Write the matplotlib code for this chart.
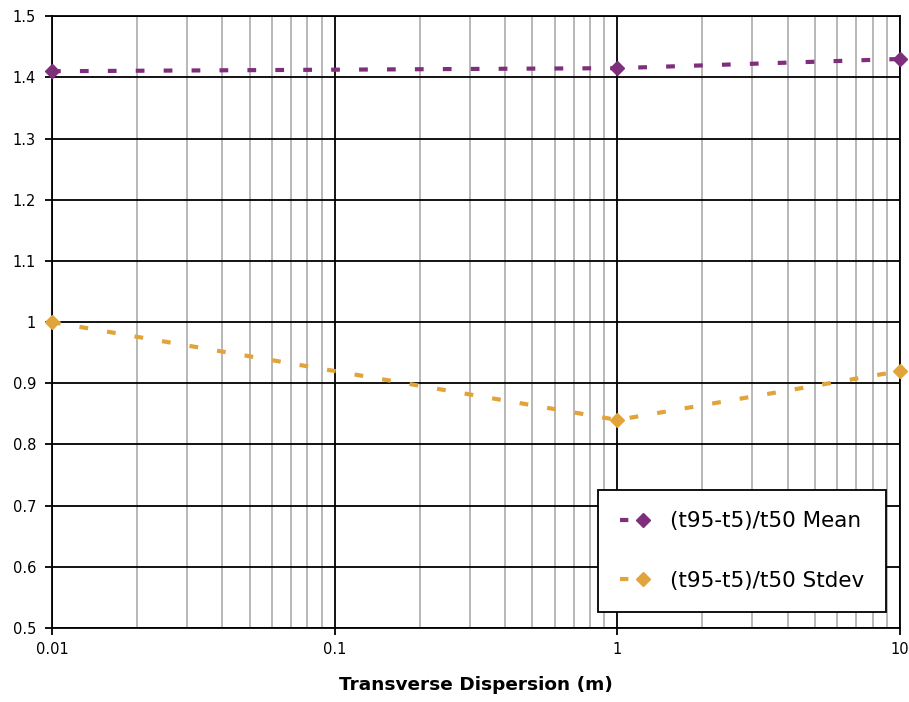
import matplotlib
matplotlib.use("Agg")
import matplotlib.pyplot as plt
from matplotlib.ticker import FixedLocator, NullFormatter
from matplotlib.lines import Line2D

dispersion = [0.01, 1, 10]
mean_vals = [1.41, 1.415, 1.43]
stdev_vals = [1.0, 0.84, 0.92]
x_ticks = [0.01, 0.1, 1, 10]
x_tick_labels = ["0.01", "0.1", "1", "10"]
y_ticks = [0.5, 0.6, 0.7, 0.8, 0.9, 1.0, 1.1, 1.2, 1.3, 1.4, 1.5]
y_tick_labels = ["0.5", "0.6", "0.7", "0.8", "0.9", "1", "1.1", "1.2", "1.3", "1.4", "1.5"]
series_labels = ["(t95-t5)/t50 Mean", "(t95-t5)/t50 Stdev"]

plt.rcParams['font.family'] = ['DejaVu Sans']

fig = plt.figure(figsize=(9.09, 7.02), dpi=100)
ax = fig.add_axes([0.0572, 0.1054, 0.9329, 0.8716])

purple = "#7E2F7C"
gold = "#E0A43A"
lw = 3.0
dash = (2.1, 4.6)

ax.plot(dispersion, mean_vals, color=purple, lw=lw, dashes=dash, dash_capstyle="butt",
        marker="D", markersize=7.5, clip_on=False, zorder=5)
ax.plot(dispersion, stdev_vals, color=gold, lw=lw, dashes=dash, dash_capstyle="butt",
        marker="D", markersize=7.5, clip_on=False, zorder=5)

ax.set_xscale("log")
ax.set_xlim(0.01, 10)
ax.set_ylim(0.5, 1.5)
ax.xaxis.set_major_locator(FixedLocator(x_ticks))
ax.set_xticklabels(x_tick_labels)
minor = [m * d for d in [0.01, 0.1, 1] for m in range(2, 10)]
ax.xaxis.set_minor_locator(FixedLocator(minor))
ax.xaxis.set_minor_formatter(NullFormatter())
ax.set_yticks(y_ticks)
ax.set_yticklabels(y_tick_labels)

ax.grid(True, which="major", axis="both", color="black", lw=1.3)
ax.grid(True, which="minor", axis="x", color="#b8b8b8", lw=1.4)
ax.set_axisbelow(True)

for s in ax.spines.values():
    s.set_color("black")
    s.set_linewidth(1.3)

ax.tick_params(axis="y", which="major", labelsize=10.5, length=5, width=1.3, direction="out", pad=6.5)
ax.tick_params(axis="x", which="major", labelsize=10.5, length=5, width=1.3, direction="out", pad=5)
ax.tick_params(axis="x", which="minor", length=0)

ax.set_xlabel("Transverse Dispersion (m)", fontsize=13.3, fontweight="bold", labelpad=14)

# legend proxies: a single short dash followed by the diamond marker
proxies = [
    Line2D([], [], color=c, lw=lw, dashes=(2.0, 40), dash_capstyle="butt",
           marker="D", markersize=7.5)
    for c in (purple, gold)
]
leg = ax.legend(proxies, series_labels, loc="lower right", bbox_to_anchor=(0.9835, 0.026),
                fontsize=15.5, frameon=True, fancybox=False, edgecolor="black", framealpha=1,
                handlelength=2.2, numpoints=1, labelspacing=1.83, borderpad=1.0,
                handletextpad=0.15, borderaxespad=0)
leg.get_frame().set_linewidth(1.3)

fig.savefig("out.png", dpi=100)
